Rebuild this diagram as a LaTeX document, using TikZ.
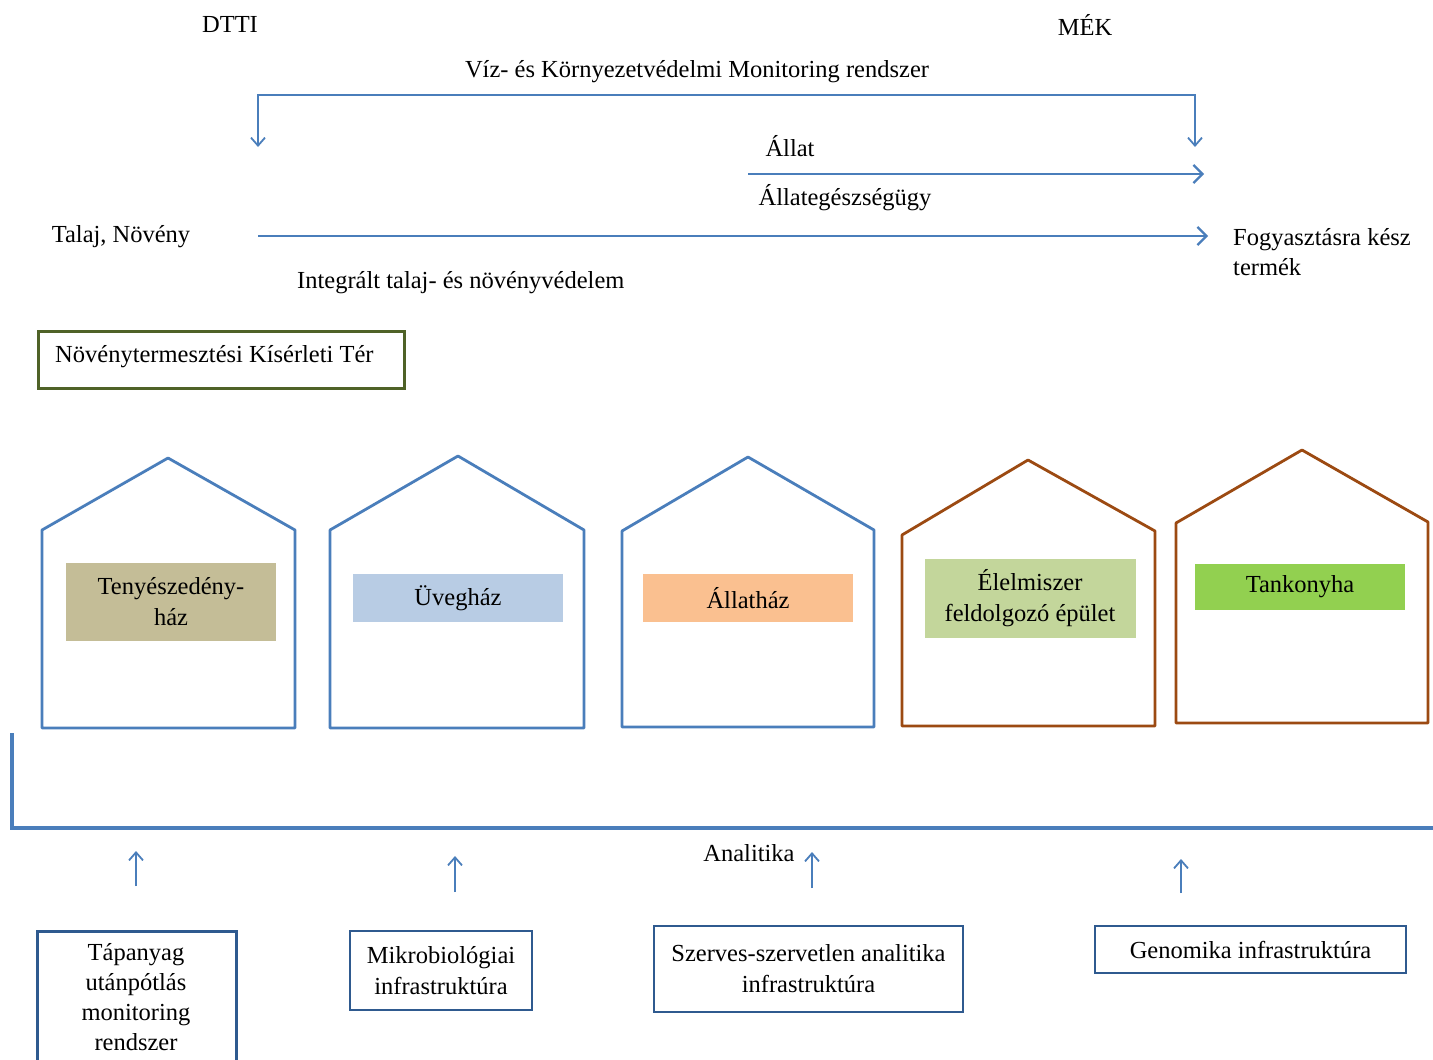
\documentclass[tikz,border=0pt]{standalone}
\usepackage{fontspec}
\setmainfont{Liberation Serif}
\usetikzlibrary{arrows.meta}
\definecolor{lblue}{HTML}{4A7EBB}
\definecolor{dblue}{HTML}{2F5A8F}
\definecolor{brownc}{HTML}{9C4A12}
\definecolor{dgreen}{HTML}{4F6228}
\definecolor{tanc}{HTML}{C4BD97}
\definecolor{skyc}{HTML}{B8CCE4}
\definecolor{peachc}{HTML}{FAC090}
\definecolor{sagec}{HTML}{C3D69B}
\definecolor{limec}{HTML}{92D050}
\begin{document}
\begin{tikzpicture}[x=1pt,y=-1pt,
  every node/.style={font=\fontsize{24.5}{31}\selectfont, inner sep=0pt},
  txt/.style={anchor=center},
  flow/.style={draw=lblue, line width=2.8pt, -{Straight Barb[length=9pt,width=18pt,line width=2.2pt]}},
  thinflow/.style={draw=lblue, line width=2pt, -{Straight Barb[length=8pt,width=14pt,line width=1.8pt]}},
  bluehouse/.style={draw=lblue, line width=2.8pt, line join=round},
  brownhouse/.style={draw=brownc, line width=2.8pt, line join=round},
  label/.style={minimum width=210pt, align=center, inner sep=0pt},
  infobox/.style={draw=dblue, line width=2.5pt, align=center, inner sep=0pt},
]
\useasboundingbox[fill=white] (0,0) rectangle (1433,1060);

% top labels
\node[txt] (dtti) at (230,25) {DTTI};
\node[txt] (mek) at (1085,25) {MÉK};
\node[txt] (viz) at (697,72) {Víz- és Környezetvédelmi Monitoring rendszer};

% monitoring bracket
\coordinate (bL) at (258,95);
\coordinate (bR) at (1195,95);
\coordinate (bLd) at (258,147);
\coordinate (bRd) at (1195,147);
\draw[thinflow] (bR) -- (bL) -- (bLd);
\draw[thinflow] (bL) -- (bR) -- (bRd);

% Állat arrow
\node[txt] (allat) at (790,146) {Állat};
\node[txt] (allateg) at (845,198) {Állategészségügy};
\coordinate (aS) at (748,174);
\coordinate (aE) at (1204,174);
\draw[flow, line width=2.4pt] (aS) -- (aE);

% main arrow
\node[txt] (talaj) at (121,237) {Talaj, Növény};
\node[anchor=west, align=left, font=\fontsize{24.5}{30}\selectfont] (fogy) at (1233,252) {Fogyasztásra kész\\termék};
\coordinate (mS) at (258,236);
\coordinate (mE) at (1208,236);
\draw[flow] (mS) -- (mE);
\node[anchor=west] (integr) at (297,283) {Integrált talaj- és növényvédelem};

% green box
\node[draw=dgreen, line width=3.2pt, minimum width=366pt, minimum height=57pt, anchor=north west] (nkt) at (37,330) {};
\node[anchor=west] (nkttxt) at (55,357) {Növénytermesztési Kísérleti Tér};

% houses
\draw[bluehouse] (42,728) -- (42,530) -- (168,458) -- (295,530) -- (295,728) -- cycle;
\draw[bluehouse] (330,728) -- (330,530) -- (458,456) -- (584,530) -- (584,728) -- cycle;
\draw[bluehouse] (622,727) -- (622,531) -- (748,457) -- (874,530) -- (874,727) -- cycle;
\draw[brownhouse] (902,726) -- (902,535) -- (1028,460) -- (1155,531) -- (1155,726) -- cycle;
\draw[brownhouse] (1176,723) -- (1176,523) -- (1302,450) -- (1428,522) -- (1428,723) -- cycle;

% coloured labels
\node[label, fill=tanc, minimum height=78pt] (teny) at (171,602) {Tenyészedény-\\ház};
\node[label, fill=skyc, minimum height=48pt] (uveg) at (458,598) {Üvegház};
\node[label, fill=peachc, minimum height=48pt] (allh) at (748,598) {Állatház};
\node[label, fill=sagec, minimum height=79pt, minimum width=211pt] (elel) at (1030,598) {Élelmiszer\\feldolgozó épület};
\node[label, fill=limec, minimum height=46pt] (tank) at (1300,587) {Tankonyha};

% analytics line
\coordinate (lTop) at (12,733);
\coordinate (lCorner) at (12,828);
\coordinate (lEnd) at (1433,828);
\draw[draw=lblue, line width=3.8pt] (lTop) -- (lCorner) -- (lEnd);
\node[txt] (anal) at (749,853) {Analitika};

% bottom boxes
\node[infobox, minimum width=199pt, minimum height=150pt, anchor=north west] (tap) at (36,930) {};
\node[align=center, font=\fontsize{24.5}{30}\selectfont] (taptxt) at (136,997) {Tápanyag\\utánpótlás\\monitoring\\rendszer};
\node[infobox, minimum width=182pt, minimum height=79pt] (mikro) at (441,970.5) {Mikrobiológiai\\infrastruktúra};
\node[infobox, minimum width=309pt, minimum height=86pt] (szerv) at (808.5,969) {Szerves-szervetlen analitika\\infrastruktúra};
\node[infobox, minimum width=311pt, minimum height=47pt] (genom) at (1250.5,949.5) {Genomika infrastruktúra};

% up arrows
\coordinate (u1s) at (136,886); \coordinate (u1e) at (136,851);
\coordinate (u2s) at (455,892); \coordinate (u2e) at (455,856);
\coordinate (u3s) at (812,888); \coordinate (u3e) at (812,852);
\coordinate (u4s) at (1181,893); \coordinate (u4e) at (1181,859);
\draw[thinflow] (u1s) -- (u1e);
\draw[thinflow] (u2s) -- (u2e);
\draw[thinflow] (u3s) -- (u3e);
\draw[thinflow] (u4s) -- (u4e);
\end{tikzpicture}
\end{document}
